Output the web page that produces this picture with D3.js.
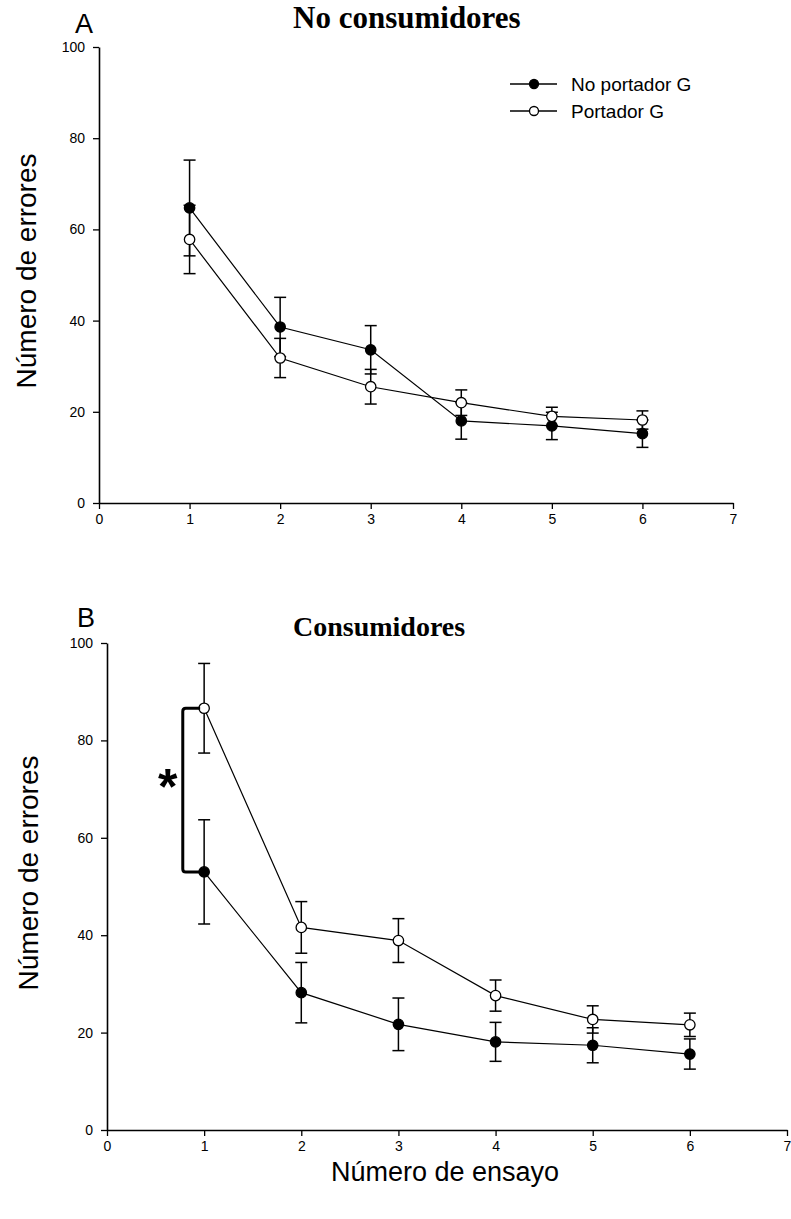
<!DOCTYPE html>
<html>
<head>
<meta charset="utf-8">
<script src="https://cdn.jsdelivr.net/npm/d3@7"></script>
<style>
  body { margin: 0; background: #fff; }
  svg text { font-family: "Liberation Sans", Arial, sans-serif; fill: #000; }
</style>
</head>
<body>
<svg id="chart" width="791" height="1219"></svg>
<script>
// data
const trials = [1, 2, 3, 4, 5, 6];
const xTicks = [0, 1, 2, 3, 4, 5, 6, 7];
const yTicks = [0, 20, 40, 60, 80, 100];
const seriesNames = ['No portador G', 'Portador G'];

// A: No consumidores
const noConsNoPortador = [64.7, 38.6, 33.6, 18.0, 16.9, 15.2];
const noConsNoPortadorErr = [10.5, 6.5, 5.3, 4.0, 3.0, 3.0];
const noConsPortador = [57.8, 31.8, 25.5, 22.0, 19.0, 18.2];
const noConsPortadorErr = [7.5, 4.3, 3.8, 2.8, 2.0, 2.0];

// B: Consumidores
const consNoPortador = [53.0, 28.2, 21.7, 18.1, 17.4, 15.6];
const consNoPortadorErr = [10.7, 6.2, 5.4, 4.0, 3.6, 3.1];
const consPortador = [86.6, 41.6, 38.9, 27.6, 22.7, 21.6];
const consPortadorErr = [9.2, 5.3, 4.5, 3.2, 2.8, 2.4];

const svg = d3.select('#chart');

function drawPanel(opt) {
    const x = d3.scaleLinear().domain([0, 7]).range([opt.left, opt.right]);
    const y = d3.scaleLinear().domain([0, 100]).range([opt.bottom, opt.top]);
    const g = svg.append('g');

    const xAxis = g.append('g')
        .attr('transform', `translate(0, ${opt.bottom})`)
        .call(d3.axisBottom(x).tickValues(xTicks).tickFormat(d3.format('d'))
            .tickSize(6).tickPadding(5).tickSizeOuter(0));
    const yAxis = g.append('g')
        .attr('transform', `translate(${opt.left}, 0)`)
        .call(d3.axisLeft(y).tickValues(yTicks).tickFormat(d3.format('d'))
            .tickSize(6).tickPadding(8).tickSizeOuter(0));
    [xAxis, yAxis].forEach(a => {
        a.select('.domain').attr('stroke', '#000').attr('stroke-width', 1.6);
        a.selectAll('.tick line').attr('stroke', '#000').attr('stroke-width', 1.3);
        a.selectAll('.tick text').style('font-size', '14px').attr('fill', '#000');
    });

    const line = d3.line().x((d, i) => x(trials[i])).y(d => y(d));
    const series = [
        { vals: opt.noPort, err: opt.noPortErr, fill: '#000' },
        { vals: opt.port, err: opt.portErr, fill: '#fff' }
    ];

    // connecting lines
    series.forEach(s => {
        g.append('path')
            .datum(s.vals)
            .attr('d', line)
            .attr('fill', 'none')
            .attr('stroke', '#000')
            .attr('stroke-width', 1.2);
    });

    // error bars
    series.forEach(s => {
        const eb = g.append('g').attr('stroke', '#000').attr('stroke-width', 1.5);
        s.vals.forEach((v, i) => {
            const cx = x(trials[i]);
            eb.append('line').attr('x1', cx).attr('x2', cx)
                .attr('y1', y(v - s.err[i])).attr('y2', y(v + s.err[i]));
            [v - s.err[i], v + s.err[i]].forEach(e => {
                eb.append('line').attr('x1', cx - 6).attr('x2', cx + 6)
                    .attr('y1', y(e)).attr('y2', y(e));
            });
        });
    });

    // markers
    series.forEach(s => {
        g.selectAll(null)
            .data(s.vals)
            .enter()
            .append('circle')
            .attr('cx', (d, i) => x(trials[i]))
            .attr('cy', d => y(d))
            .attr('r', 5.2)
            .attr('fill', s.fill)
            .attr('stroke', '#000')
            .attr('stroke-width', 1.3);
    });

    // title and panel letter
    g.append('text')
        .attr('x', opt.titleX).attr('y', opt.titleY)
        .style('font-family', '"Liberation Serif", "Times New Roman", serif')
        .style('font-weight', 'bold')
        .style('font-size', opt.titleSize + 'px')
        .text(opt.title);
    g.append('text')
        .attr('x', opt.letterX).attr('y', opt.letterY)
        .attr('text-anchor', 'middle')
        .style('font-size', '27px')
        .text(opt.letter);

    // y axis title
    g.append('text')
        .attr('transform', `translate(${opt.yTitleX}, ${opt.yTitleY}) rotate(-90)`)
        .attr('text-anchor', 'middle')
        .style('font-size', '28px')
        .text('Número de errores');

    return { x, y, g };
}

const a = drawPanel({
    left: 99, right: 733, top: 47, bottom: 503,
    noPort: noConsNoPortador, noPortErr: noConsNoPortadorErr,
    port: noConsPortador, portErr: noConsPortadorErr,
    title: 'No consumidores', titleX: 293, titleY: 28, titleSize: 31,
    letter: 'A', letterX: 84, letterY: 33, yTitleX: 36, yTitleY: 271
});

// legend
const legend = a.g.append('g');
seriesNames.forEach((name, i) => {
    const ly = 84 + i * 27;
    legend.append('line').attr('x1', 510).attr('x2', 557).attr('y1', ly).attr('y2', ly)
        .attr('stroke', '#000').attr('stroke-width', 1.3);
    legend.append('circle').attr('cx', 534).attr('cy', ly).attr('r', 4.5)
        .attr('fill', i === 0 ? '#000' : '#fff').attr('stroke', '#000').attr('stroke-width', 1.3);
    legend.append('text').attr('x', 571).attr('y', ly + 7)
        .style('font-size', '19px').text(name);
});

const b = drawPanel({
    left: 107, right: 787, top: 643, bottom: 1130,
    noPort: consNoPortador, noPortErr: consNoPortadorErr,
    port: consPortador, portErr: consPortadorErr,
    title: 'Consumidores', titleX: 293, titleY: 636, titleSize: 28,
    letter: 'B', letterX: 86, letterY: 627, yTitleX: 38, yTitleY: 873
});

// significance bracket between the two groups at trial 1
const bx = b.x(0.78), bx1 = b.x(1) - 4;
const yTop = b.y(consPortador[0]), yBot = b.y(consNoPortador[0]);
b.g.append('path')
    .attr('d', `M${bx1},${yTop} H${bx + 3} Q${bx},${yTop} ${bx},${yTop + 3} V${yBot - 3} Q${bx},${yBot} ${bx + 3},${yBot} H${bx1}`)
    .attr('fill', 'none')
    .attr('stroke', '#000')
    .attr('stroke-width', 3);
b.g.append('text')
    .attr('x', bx - 15).attr('y', (yTop + yBot) / 2 + 14)
    .attr('text-anchor', 'middle')
    .style('font-size', '50px')
    .style('font-weight', 'bold')
    .text('*');

// x axis title
svg.append('text')
    .attr('x', 445).attr('y', 1181)
    .attr('text-anchor', 'middle')
    .style('font-size', '27px')
    .text('Número de ensayo');
</script>
</body>
</html>
